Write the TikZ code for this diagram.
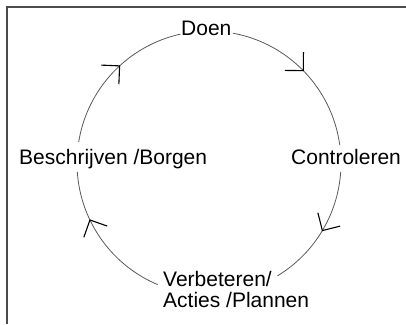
\documentclass[tikz,border=0pt]{standalone}
\usepackage{fontspec}
\setmainfont{Liberation Sans}
\usetikzlibrary{decorations.markings}
\begin{document}
\begin{tikzpicture}[x=1pt,y=1pt,
  lbl/.style={font=\fontsize{21}{21}\selectfont, inner sep=0pt, anchor=base west},
  cyc/.style={draw=black!65, line width=0.8pt},
  barb/.style={draw=black, line width=1.1pt},
  midarrow/.style={postaction={decorate}, decoration={markings, mark=at position #1 with {\draw[barb] (-13,13) -- (0,0) -- (-13,-13);}}},
  frame/.style={draw=black!70, line width=1.5pt}]
\useasboundingbox (0,0) rectangle (406,324);
\draw[frame] (7,0) -- (7,317) -- (406,317);
\coordinate (c) at (209,161);
\node[lbl] (doen) at (181,288) {Doen};
\node[lbl] (borgen) at (19,159) {Beschrijven /Borgen};
\node[lbl] (ctrl) at (291,159) {Controleren};
\node[lbl, anchor=north west, align=left] (plan) at (163,52.5) {Verbeteren/\\Acties /Plannen};
\coordinate (b1) at ([shift={(170.8:132)}]c);
\coordinate (d1) at ([shift={(79.6:132)}]c);
\coordinate (k1) at ([shift={(-3.9:132)}]c);
\coordinate (p1) at ([shift={(-112.9:132)}]c);
\draw[cyc, midarrow=0.559] (b1) arc[start angle=170.8, end angle=102.5, radius=132];
\draw[cyc, midarrow=0.49] (d1) arc[start angle=79.6, end angle=7.8, radius=132];
\draw[cyc, midarrow=0.49] (k1) arc[start angle=-3.9, end angle=-58.8, radius=132];
\draw[cyc, midarrow=0.657] (p1) arc[start angle=-112.9, end angle=-176.1, radius=132];
\end{tikzpicture}
\end{document}
